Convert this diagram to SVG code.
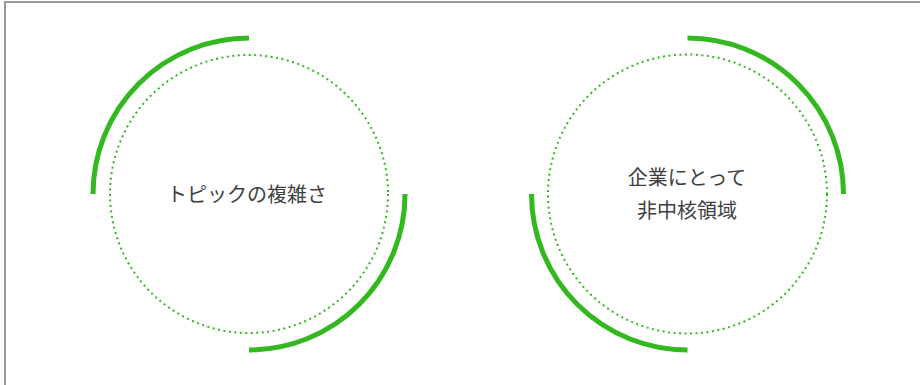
<svg xmlns="http://www.w3.org/2000/svg" width="920" height="385" viewBox="0 0 920 385">
<style>
.frame{fill:#fff;stroke:#9a9a9e;stroke-width:2}
.arc{fill:none;stroke:#33b81f;stroke-width:5}
.dot{fill:none;stroke:#33b81f;stroke-width:2;stroke-dasharray:2 3.5}
.lbl{font-family:"Noto Sans CJK JP","Noto Sans",sans-serif;font-size:20px;fill:#404040;text-anchor:middle}
</style>
<rect class="frame" x="5" y="2" width="930" height="400"/>
<g id="node-complexity">
<circle class="dot" cx="249" cy="194" r="139"/>
<path class="arc" d="M93 194 A156 156 0 0 1 249 38"/>
<path class="arc" d="M405 194 A156 156 0 0 1 249 350"/>
<text class="lbl" x="247" y="202">トピックの複雑さ</text>
</g>
<g id="node-noncore">
<circle class="dot" cx="687.5" cy="194" r="139.5"/>
<path class="arc" d="M687.5 38 A156 156 0 0 1 843.5 194"/>
<path class="arc" d="M531.5 194 A156 156 0 0 0 687.5 350"/>
<text class="lbl" x="687" y="185">企業にとって</text>
<text class="lbl" x="687" y="218">非中核領域</text>
</g>
<g id="connectors"/>
</svg>
